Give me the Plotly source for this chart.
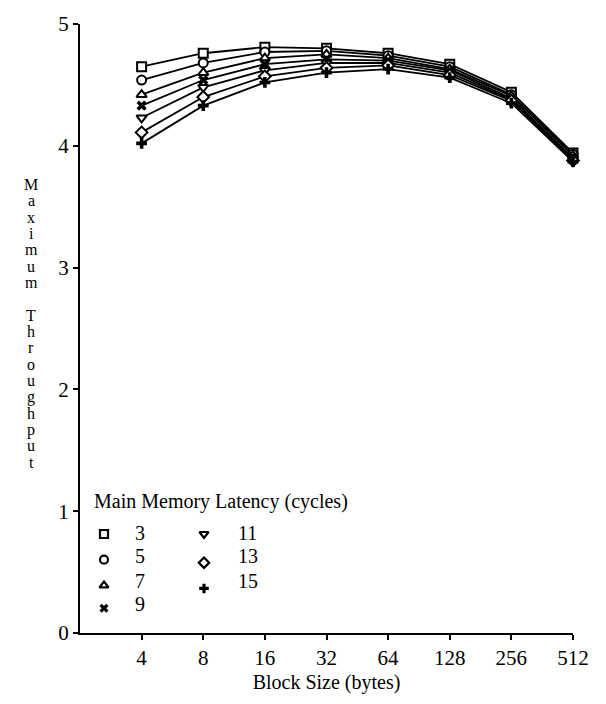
import plotly.graph_objects as go

# Block sizes (bytes) on a log2 axis
block_sizes = [4, 8, 16, 32, 64, 128, 256, 512]
block_labels = ["4", "8", "16", "32", "64", "128", "256", "512"]

# Main memory latency (cycles) for each curve
latencies = [3, 5, 7, 9, 11, 13, 15]

# Maximum throughput per latency
thr_3 = [4.65, 4.76, 4.81, 4.80, 4.76, 4.67, 4.44, 3.94]
thr_5 = [4.54, 4.68, 4.77, 4.78, 4.74, 4.65, 4.42, 3.93]
thr_7 = [4.42, 4.60, 4.72, 4.75, 4.72, 4.63, 4.41, 3.92]
thr_9 = [4.33, 4.54, 4.67, 4.71, 4.70, 4.62, 4.39, 3.90]
thr_11 = [4.23, 4.48, 4.62, 4.68, 4.68, 4.60, 4.38, 3.89]
thr_13 = [4.11, 4.40, 4.57, 4.64, 4.66, 4.58, 4.37, 3.88]
thr_15 = [4.02, 4.33, 4.52, 4.60, 4.63, 4.56, 4.35, 3.87]
series = [thr_3, thr_5, thr_7, thr_9, thr_11, thr_13, thr_15]

y_ticks = [0, 1, 2, 3, 4, 5]

FONT = "Liberation Serif, Times New Roman, serif"
W, H = 606, 704
L, R, T, B = 80, 33, 18, 71
PW, PH = W - L - R, H - T - B

# marker style per latency: (symbol, size, fill, line width)
styles = [
    ("square", 9, "white", 2),
    ("circle", 9, "white", 2),
    ("triangle-up", 9, "white", 2),
    ("x", 9, "black", 0),
    ("triangle-down", 9, "white", 2),
    ("diamond", 9, "white", 2),
    ("cross", 9, "black", 0),
]


def px_x(p):
    return (p - L) / PW


def px_y(p):
    return (H - B - p) / PH


fig = go.Figure()

for lat, vals, (sym, size, fill, lw) in zip(latencies, series, styles):
    fig.add_trace(go.Scatter(
        x=block_sizes, y=vals, mode="lines+markers", name=str(lat),
        line=dict(color="black", width=1.8),
        marker=dict(symbol=sym, size=size, color=fill,
                    line=dict(color="black", width=lw)),
        showlegend=False, cliponaxis=False,
    ))

# key: marker + label, two columns
key_cols = [(0, 4, 104, 133), (4, 7, 204, 236)]
key_marker_rows = [[533, 559, 585, 608], [533, 562, 588]]
key_text_rows = [[532, 555, 580, 604], [532, 555, 580]]
annotations = []
for ci, (a, b, mx, tx) in enumerate(key_cols):
    for k, idx in enumerate(range(a, b)):
        sym, size, fill, lw = styles[idx]
        fig.add_trace(go.Scatter(
            x=[px_x(mx)], y=[px_y(key_marker_rows[ci][k])],
            xaxis="x2", yaxis="y2", mode="markers", showlegend=False,
            marker=dict(symbol=sym, size=8, color=fill,
                        line=dict(color="black", width=lw if lw == 0 else 2.2)),
            hoverinfo="skip",
        ))
        annotations.append(dict(
            x=px_x(tx), y=px_y(key_text_rows[ci][k]), xref="paper", yref="paper",
            text=str(latencies[idx]), showarrow=False, xanchor="left",
            yanchor="middle", font=dict(family=FONT, size=20, color="black"),
        ))

annotations.append(dict(
    x=px_x(92), y=px_y(500), xref="paper", yref="paper",
    text="Main Memory Latency (cycles)", showarrow=False, xanchor="left",
    yanchor="middle", font=dict(family=FONT, size=20, color="black"),
))

# vertical, letter-stacked y-axis title
y_title = "Maximum Throughput"
for i, ch in enumerate(y_title):
    if ch == " ":
        continue
    annotations.append(dict(
        x=px_x(31), y=px_y(180 + i * 16.5), xref="paper", yref="paper",
        text=ch, showarrow=False, xanchor="center", yanchor="middle",
        font=dict(family=FONT, size=16, color="black"),
    ))

fig.update_layout(
    width=W, height=H,
    margin=dict(l=L, r=R, t=T, b=B),
    paper_bgcolor="white", plot_bgcolor="white",
    font=dict(family=FONT, color="black"),
    xaxis=dict(
        type="log", range=[0.30103, 2.70927],
        tickvals=block_sizes, ticktext=block_labels,
        showline=True, linecolor="black", linewidth=2,
        ticks="outside", ticklen=5, tickwidth=2, tickcolor="black",
        showgrid=False, zeroline=False,
        tickfont=dict(family=FONT, size=21, color="black"),
        title=dict(text="Block Size (bytes)", standoff=6,
                   font=dict(family=FONT, size=20, color="black")),
    ),
    yaxis=dict(
        range=[0, 5], tickvals=y_ticks,
        showline=True, linecolor="black", linewidth=2,
        ticks="outside", ticklen=5, tickwidth=2, tickcolor="black",
        showgrid=False, zeroline=False,
        tickfont=dict(family=FONT, size=21, color="black"),
    ),
    xaxis2=dict(overlaying="x", range=[0, 1], visible=False),
    yaxis2=dict(overlaying="y", range=[0, 1], visible=False),
    annotations=annotations,
    showlegend=False,
)

fig.write_html("out.html")
